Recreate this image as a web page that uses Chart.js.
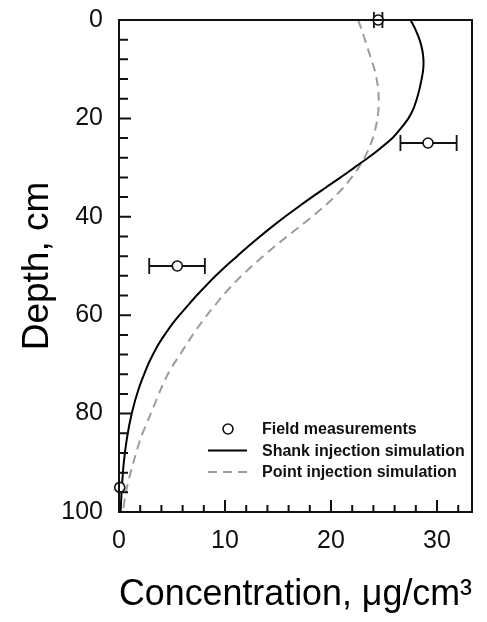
<!DOCTYPE html>
<html><head><meta charset="utf-8">
<script src="https://cdn.jsdelivr.net/npm/chart.js@4/dist/chart.umd.min.js"></script>
<style>html,body{margin:0;padding:0;background:#fff}canvas{display:block}</style>
</head><body>
<canvas id="c" width="487" height="622"></canvas>
<script>
// ---- data ----
const seriesLabels = ['Field measurements', 'Shank injection simulation', 'Point injection simulation'];
const fieldConc    = [24.45, 29.15, 5.5, 0.07];
const fieldDepth   = [0, 25, 50, 95];
const fieldErrLow  = [24.05, 26.55, 2.85, null];
const fieldErrHigh = [24.85, 31.85, 8.1, null];

const shankDepth = [0, 2, 4, 6, 8, 10, 12, 14, 16, 18, 20, 22, 24, 26, 28, 30, 32, 34, 36, 38, 40, 42, 44, 46, 48, 50, 52, 54, 56, 58, 60, 62, 64, 66, 68, 70, 75, 80, 85, 90, 95, 100];
const shankConc  = [27.5, 27.98, 28.35, 28.6, 28.72, 28.7, 28.55, 28.35, 28.1, 27.78, 27.3, 26.6, 25.8, 24.7, 23.5, 22.2, 20.9, 19.55, 18.2, 16.9, 15.65, 14.45, 13.3, 12.2, 11.15, 10.1, 9.12, 8.2, 7.32, 6.5, 5.7, 4.95, 4.3, 3.7, 3.2, 2.75, 1.85, 1.2, 0.75, 0.45, 0.27, 0.15];

const pointDepth = [0, 2, 4, 6, 8, 10, 12, 14, 16, 18, 20, 22, 24, 26, 28, 30, 32, 34, 36, 38, 40, 42, 44, 46, 48, 50, 52, 54, 56, 58, 60, 62, 64, 66, 68, 70, 72, 75, 80, 85, 90, 95, 100];
const pointConc  = [22.55, 22.9, 23.2, 23.5, 23.8, 24.1, 24.3, 24.45, 24.5, 24.48, 24.38, 24.2, 23.95, 23.6, 23.15, 22.6, 21.95, 21.2, 20.3, 19.3, 18.2, 17.05, 15.85, 14.7, 13.6, 12.55, 11.55, 10.65, 9.8, 9.05, 8.3, 7.6, 6.95, 6.35, 5.75, 5.15, 4.6, 3.95, 3.0, 2.05, 1.35, 0.75, 0.35];

const xLimits = [0, 33.3];
const yLimits = [0, 100];
const xMajorStep = 10, xMinorStep = 2;
const yMajorStep = 20, yMinorStep = 4;

const FONT = '"Liberation Sans", Arial, Helvetica, sans-serif';
const INK = '#111';

// ---- plugins ----
const errorBars = {
  id: 'errorBars',
  beforeDatasetsDraw(chart) {
    const {ctx, scales: {x, y}} = chart;
    ctx.save();
    ctx.strokeStyle = INK; ctx.lineWidth = 1.8;
    fieldDepth.forEach((d, i) => {
      if (fieldErrLow[i] == null) return;
      const py = y.getPixelForValue(d);
      const x1 = x.getPixelForValue(fieldErrLow[i]);
      const x2 = x.getPixelForValue(fieldErrHigh[i]);
      ctx.beginPath();
      ctx.moveTo(x1, py); ctx.lineTo(x2, py);
      ctx.moveTo(x1, py - 8); ctx.lineTo(x1, py + 8);
      ctx.moveTo(x2, py - 8); ctx.lineTo(x2, py + 8);
      ctx.stroke();
    });
    ctx.restore();
  }
};

const frame = {
  id: 'frame',
  afterDraw(chart) {
    const {ctx, chartArea: a, scales: {x, y}} = chart;
    ctx.save();
    ctx.strokeStyle = INK; ctx.lineWidth = 2;
    ctx.strokeRect(a.left, a.top, a.right - a.left, a.bottom - a.top);
    ctx.beginPath();
    for (let v = yLimits[0]; v <= yLimits[1] + 1e-9; v += yMinorStep) {
      const py = y.getPixelForValue(v);
      const len = (v % yMajorStep === 0) ? 12 : 9;
      ctx.moveTo(a.left, py); ctx.lineTo(a.left + len, py);
    }
    for (let v = xLimits[0]; v <= xLimits[1] + 1e-9; v += xMinorStep) {
      const px = x.getPixelForValue(v);
      const len = (v % xMajorStep === 0) ? 12 : 7;
      ctx.moveTo(px, a.bottom); ctx.lineTo(px, a.bottom - len);
    }
    ctx.stroke();
    ctx.restore();
  }
};

const legendBox = {
  id: 'legendBox',
  afterDraw(chart) {
    const {ctx} = chart;
    const ds = chart.data.datasets;
    const rows = [429, 450.5, 472];
    ctx.save();
    ctx.font = 'bold 16px ' + FONT;
    ctx.fillStyle = INK;
    ctx.textBaseline = 'middle';
    ctx.textAlign = 'left';
    ds.forEach((d, i) => {
      const ry = rows[i];
      ctx.save();
      if (i === 0) {
        ctx.beginPath();
        ctx.arc(228, ry, 5, 0, Math.PI * 2);
        ctx.fillStyle = '#fff'; ctx.fill();
        ctx.strokeStyle = INK; ctx.lineWidth = 1.6; ctx.stroke();
      } else {
        ctx.beginPath();
        ctx.strokeStyle = d.borderColor; ctx.lineWidth = d.borderWidth;
        ctx.setLineDash(d.borderDash || []);
        ctx.moveTo(208, ry); ctx.lineTo(247, ry);
        ctx.stroke();
      }
      ctx.restore();
      ctx.fillText(d.label, 262, ry + 1);
    });
    ctx.restore();
  }
};

// ---- chart ----
new Chart(document.getElementById('c'), {
  type: 'scatter',
  data: {
    datasets: [
      {
        label: seriesLabels[0],
        data: fieldConc.map((c, i) => ({x: c, y: fieldDepth[i]})),
        showLine: false, pointStyle: 'circle', pointRadius: 5, pointBorderWidth: 1.6,
        pointBorderColor: INK, pointBackgroundColor: '#fff', clip: false
      },
      {
        label: seriesLabels[1],
        data: shankConc.map((c, i) => ({x: c, y: shankDepth[i]})),
        showLine: true, borderColor: '#000', borderWidth: 2, pointRadius: 0,
        tension: 0.3, fill: false, clip: false
      },
      {
        label: seriesLabels[2],
        data: pointConc.map((c, i) => ({x: c, y: pointDepth[i]})),
        showLine: true, borderColor: '#9c9c9c', borderWidth: 2, borderDash: [9, 6], pointRadius: 0,
        tension: 0.3, fill: false, clip: false
      }
    ]
  },
  options: {
    responsive: false, animation: false, events: [],
    layout: {padding: {left: 0, right: 15, top: 20, bottom: 0}},
    plugins: {legend: {display: false}, tooltip: {enabled: false}},
    scales: {
      x: {
        type: 'linear', position: 'bottom', min: xLimits[0], max: xLimits[1],
        ticks: {stepSize: xMajorStep, includeBounds: false, padding: 14, color: INK, font: {family: FONT, size: 25}},
        grid: {display: false, drawTicks: false}, border: {display: false},
        title: {display: true, text: 'Concentration, μg/cm³', color: '#000', font: {family: FONT, size: 37}, padding: {top: 0, bottom: 5}},
        afterFit(s) { s.height = 110; s.paddingLeft = 0; s.paddingRight = 0; }
      },
      y: {
        type: 'linear', position: 'left', reverse: true, min: yLimits[0], max: yLimits[1],
        ticks: {stepSize: yMajorStep, padding: 16, color: INK, font: {family: FONT, size: 25}},
        grid: {display: false, drawTicks: false}, border: {display: false},
        title: {display: true, text: 'Depth, cm', color: '#000', font: {family: FONT, size: 37}, padding: {top: 16, bottom: 0}},
        afterFit(s) { s.width = 119; s.paddingTop = 0; s.paddingBottom = 0; }
      }
    }
  },
  plugins: [errorBars, frame, legendBox]
});
</script>
</body></html>
